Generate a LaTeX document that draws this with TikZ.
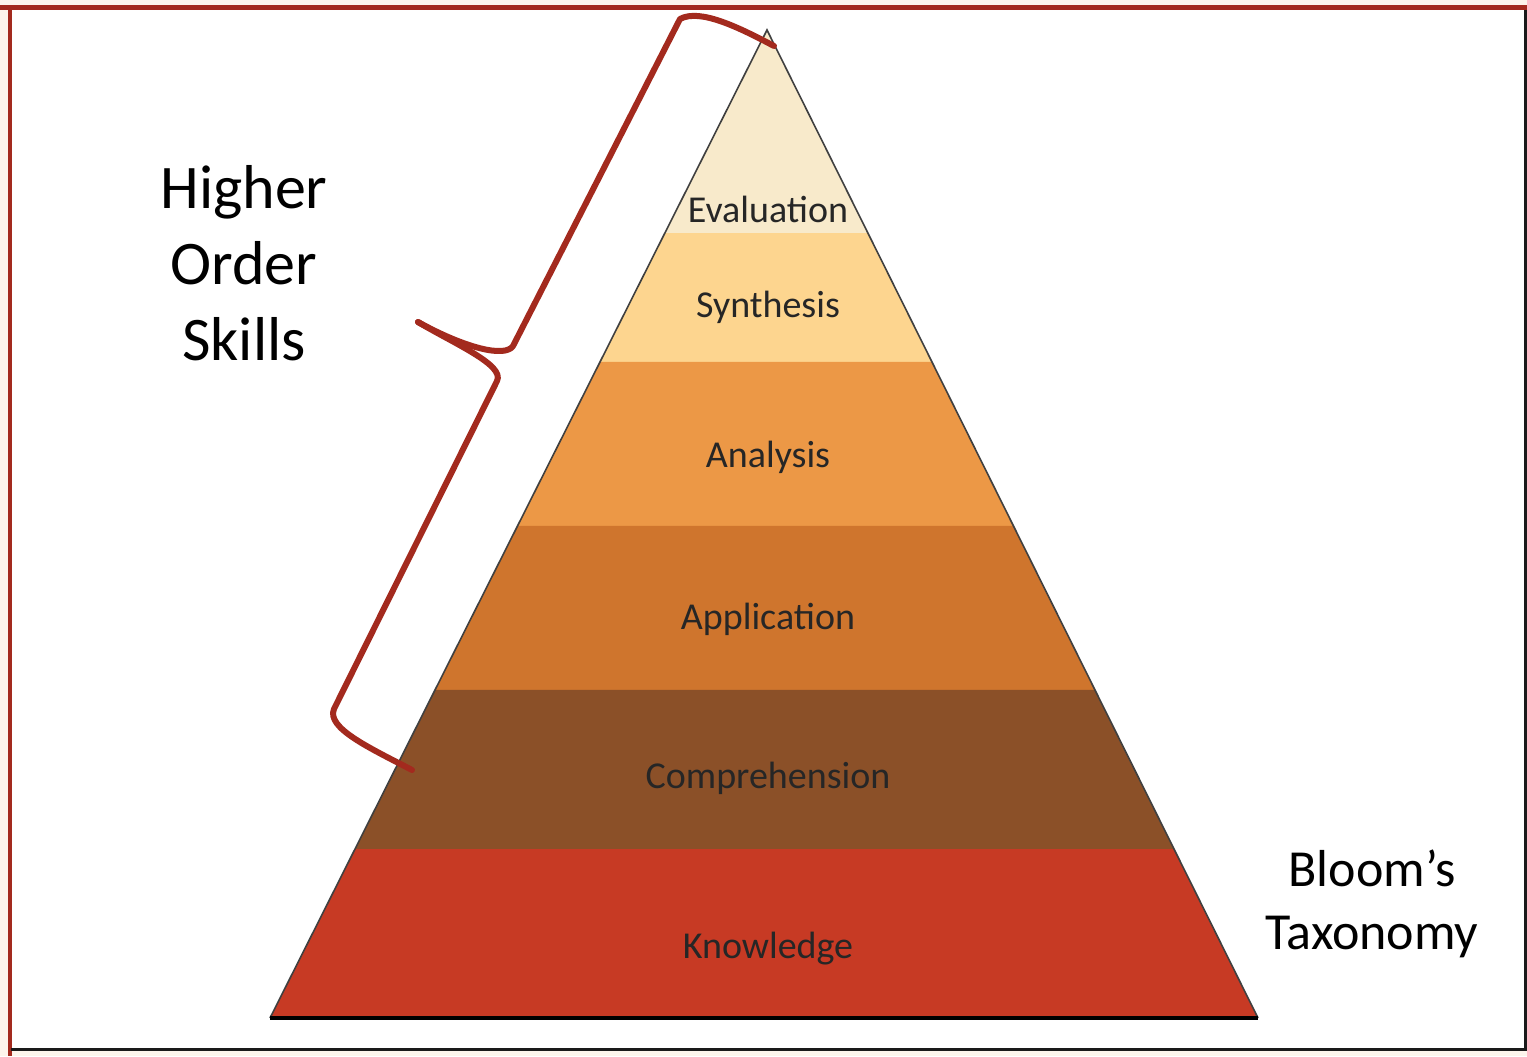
\documentclass[tikz,border=0pt]{standalone}
\usepackage{fontspec}
\setmainfont{Carlito}
\usetikzlibrary{calc}

\definecolor{braceRed}{HTML}{A32A1E}
\definecolor{edgeDark}{HTML}{1A1A1A}
\definecolor{paper}{HTML}{FDF5EC}
\definecolor{evalFill}{HTML}{F8EACB}
\definecolor{synthFill}{HTML}{FDD58F}
\definecolor{analFill}{HTML}{EC9846}
\definecolor{applFill}{HTML}{CF752D}
\definecolor{compFill}{HTML}{8B5028}
\definecolor{knowFill}{HTML}{C73A24}

\begin{document}
\begin{tikzpicture}[x=0.5pt, y=-0.5pt,
    level/.style={anchor=base, text=black!85, font=\fontsize{19}{22}\selectfont},
    brace/.style={draw=braceRed, line width=3pt, line cap=round, line join=round},
    side/.style={draw=black!75, line width=0.8pt}
]
    \useasboundingbox (0,0) rectangle (1527,1056);
    \fill[paper] (0,0) rectangle (1527,1056);
    \fill[white] (9,7) rectangle (1525,1050);

    % frame
    \draw[braceRed, line width=2.5pt] (0,7.3) -- (1527,7.3);
    \draw[braceRed, line width=2pt] (9.5,5) -- (9.5,1056);
    \draw[edgeDark, line width=1.5pt] (1525,10) -- (1525,1051);
    \draw[edgeDark, line width=1.5pt] (11,1049.8) -- (1527,1049.8);

    % pyramid
    \coordinate (apex) at (767,30);
    \coordinate (bl) at (270,1018);
    \coordinate (br) at (1258,1018);
    \foreach \ta/\tb/\col in {0/0.2055/evalFill, 0.2055/0.336/synthFill, 0.336/0.502/analFill,
                              0.502/0.668/applFill, 0.668/0.829/compFill, 0.829/1/knowFill}
        \fill[\col] ($(apex)!\ta!(bl)$) -- ($(apex)!\ta!(br)$) -- ($(apex)!\tb!(br)$) -- ($(apex)!\tb!(bl)$) -- cycle;
    \draw[side] (bl) -- (apex) -- (br);
    \draw[black, line width=2pt] (bl) -- (br);

    \node[level] (eval) at (768,222) {Evaluation};
    \node[level] (synth) at (768,317) {Synthesis};
    \node[level] (anal) at (768,467) {Analysis};
    \node[level] (appl) at (768,629) {Application};
    \node[level] (comp) at (768,788) {Comprehension};
    \node[level] (know) at (768,958) {Knowledge};

    % brace
    \draw[brace] (774,46) .. controls (740,28) and (700,8) .. (680,19) -- (513,346)
        .. controls (505,358) and (465,348) .. (418,322);
    \draw[brace] (418,322) .. controls (455,344) and (505,365) .. (497,381) -- (334,709)
        .. controls (326,728) and (370,748) .. (412,770);

    \node[align=center, font=\fontsize{31}{38}\selectfont] (hos) at (244,263.5) {Higher\\Order\\Skills};
    \node[align=center, font=\fontsize{26}{31.5}\selectfont] (bloom) at (1372,903.5) {Bloom’s\\Taxonomy};
\end{tikzpicture}
\end{document}
